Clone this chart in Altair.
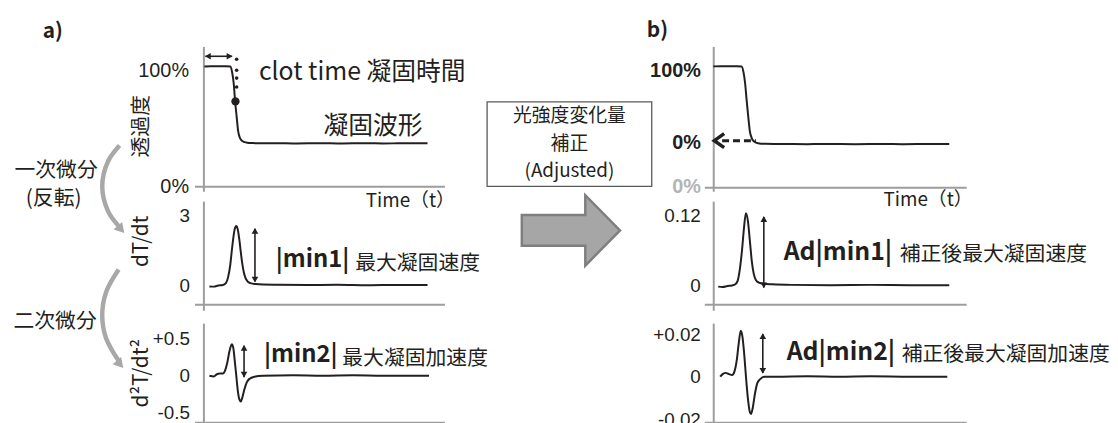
import altair as alt
import pandas as pd

JP = "Noto Sans CJK JP"
NUM = "Liberation Sans"
INK = "#231f20"
AX = "#9d9d9d"

# ---------------- values ----------------
# a) clot waveform: transmittance (%) vs time (s)
a1_t = [1.3, 10, 20, 30, 36, 38.5, 40.5, 42.5, 44.5, 46.5, 49, 52, 57, 66, 80, 100,
        120, 140, 160, 180, 200, 220, 240, 260, 280, 300]
a1_v = [103.2, 103.5, 103.4, 103.5, 103.2, 98, 89, 73, 60, 47.5, 41.5, 39, 37.8, 37.2, 37.0, 37.1,
        36.9, 37.0, 37.1, 36.9, 37.0, 37.1, 36.9, 37.0, 37.1, 37.0]
# a) first derivative dT/dt (inverted)
a2_t = [8, 14, 20, 26, 30, 33, 36, 38, 40, 42, 44, 46, 48, 50, 52, 54, 56, 59, 63, 70, 80,
        100, 140, 180, 220, 260, 300]
a2_v = [-0.04, -0.05, 0.0, 0.02, 0.1, 0.35, 0.9, 1.5, 2.05, 2.45, 2.57, 2.42, 2.0, 1.45, 0.95,
        0.58, 0.35, 0.18, 0.1, 0.06, 0.04, 0.03, 0.02, 0.03, 0.01, 0.02, 0.02]
# a) second derivative d2T/dt2
a3_t = [8, 14, 18, 22, 26, 29, 32, 35, 38, 40, 42, 44, 46, 48, 50, 52, 55, 58, 62, 68, 80,
        120, 160, 200, 240, 302]
a3_v = [0.0, -0.01, 0.02, 0.03, 0.03, 0.07, 0.18, 0.34, 0.43, 0.38, 0.2, 0.0, -0.2, -0.32,
        -0.35, -0.3, -0.18, -0.09, -0.04, -0.015, 0.0, 0.005, 0.0, 0.005, 0.0, 0.0]
# b) adjusted waveform (%)
b1_t = [0, 10, 20, 30, 36, 38.5, 40.5, 42.5, 44.5, 46.5, 49, 52, 57, 66, 80, 100,
        120, 140, 160, 180, 200, 220, 240, 260, 280, 300]
b1_v = [105.3, 105.6, 105.5, 105.6, 105.2, 97, 82, 58, 36, 16, 6, 1.5, -0.8, -1.7, -1.9, -2.0,
        -2.1, -1.9, -2.0, -2.1, -2.0, -1.9, -2.1, -2.0, -1.9, -2.0]
# b) adjusted first derivative
b2_t = [6.3, 12, 18, 24, 28, 31, 34, 36.5, 39, 41.5, 44, 46.5, 49, 51.5, 54, 58, 64, 75,
        100, 150, 200, 250, 300]
b2_v = [-0.002, -0.0025, -0.001, 0.0, 0.002, 0.008, 0.03, 0.06, 0.098, 0.125, 0.112, 0.078,
        0.042, 0.02, 0.01, 0.005, 0.003, 0.002, 0.001, 0.0005, 0.001, 0.0005, 0.0005]
# b) adjusted second derivative
b3_t = [8.8, 12, 16, 20, 24, 27, 30, 32.5, 35, 37, 39.5, 41.6, 44, 46.5, 48, 50, 53, 56, 60,
        65, 80, 120, 160, 200, 250, 297.5]
b3_v = [0.0, 0.0012, 0.0018, 0.0012, 0.0008, 0.0025, 0.008, 0.016, 0.0215, 0.019, 0.01, 0.0,
        -0.01, -0.0165, -0.0175, -0.015, -0.008, -0.003, -0.001, 0.0, 0.0, 0.0002, 0.0, 0.0002,
        0.0, 0.0]

# axis tick values
a1_ticks = [0, 100]
a2_ticks = [0, 3]
a3_ticks = [-0.5, 0, 0.5]
b1_ticks = [-60.3, 0, 100]   # grey "0%" = level of the original 0 %
b2_ticks = [0, 0.12]
b3_ticks = [-0.02, 0, 0.02]

# axis domains (data units)
A_T = [-11.95, 322.6]
B_T = [-11.35, 321.5]
A1_Y = [-4.27, 120.51]
A2_Y = [-1.0714, 3.643]
A3_Y = [-0.6622, 0.7162]
B1_Y = [-67.12, 132.88]
B2_Y = [-0.04286, 0.14571]
B3_Y = [-0.022326, 0.025116]

# layout (pixels)
WL, WA, WM, WB = 185, 252, 262, 264
H0, H1, G1, H2, G2, H3 = 34, 146, 10, 110, 13, 102
L_X = [0, WL]
M_X = [0, WM]
C_Y = [0, H0]   # annotation canvases: 1 unit = 1 px, content overflows downward


def S(dom, rev=False):
    return alt.Scale(domain=dom, nice=False, zero=False, reverse=rev)


def enc(xdom, ydom, yrev=False, no_axis=False):
    if no_axis:
        return dict(x=alt.X("t:Q", scale=S(xdom), axis=None),
                    y=alt.Y("v:Q", scale=S(ydom, yrev), axis=None))
    return dict(x=alt.X("t:Q", scale=S(xdom)), y=alt.Y("v:Q", scale=S(ydom, yrev)))


def text_layer(rows, xdom, ydom, size, weight="normal", align="left", font=JP,
               color=INK, yrev=False, no_axis=False):
    df = pd.DataFrame(rows, columns=["t", "v", "s"])
    return alt.Chart(df).mark_text(font=font, fontSize=size, fontWeight=weight, align=align,
                                   baseline="middle", color=color).encode(
        text="s:N", **enc(xdom, ydom, yrev, no_axis))


def vdouble(t, v_top, v_bot, h_top, h_bot, xdom, ydom):
    rule = alt.Chart(pd.DataFrame({"t": [t], "v": [v_top], "v2": [v_bot]})).mark_rule(
        color=INK, strokeWidth=1.6).encode(y2="v2:Q", **enc(xdom, ydom))
    heads = alt.Chart(pd.DataFrame({"t": [t, t], "v": [h_top, h_bot],
                                    "sh": ["triangle-up", "triangle-down"]})).mark_point(
        filled=True, color=INK, opacity=1, size=45).encode(
        shape=alt.Shape("sh:N", scale=None), **enc(xdom, ydom))
    return [rule, heads]


def yaxis(values, label_expr, offset, pad, title=None, tx=0, ty=0, bold=False,
          label_color=INK, size=19):
    kw = dict(values=values, labelExpr=label_expr, offset=offset, labelPadding=pad,
              ticks=False, tickSize=0, grid=False, domain=True, domainColor=AX,
              domainWidth=2, labelFont=NUM, labelFontSize=size, labelColor=label_color,
              labelOverlap=False, labelFlush=False,
              labelFontWeight="bold" if bold else "normal")
    if title:
        kw.update(title=title, titleFont=JP, titleFontSize=21, titleFontWeight="normal",
                  titleColor=INK, titleX=tx, titleY=ty, titleAngle=270,
                  titleAlign="center", titleBaseline="middle")
    else:
        kw["title"] = None
    return alt.Axis(**kw)


def xaxis(offset, title=None, tx=0, ty=0):
    kw = dict(offset=offset, labels=False, ticks=False, tickSize=0, grid=False,
              domain=True, domainColor=AX, domainWidth=2)
    if title:
        kw.update(title=title, titleFont=JP, titleFontSize=19, titleFontWeight="normal",
                  titleColor=INK, titleX=tx, titleY=ty, titleAlign="right",
                  titleBaseline="middle", titleAngle=0)
    else:
        kw["title"] = None
    return alt.Axis(**kw)


def curve_panel(t, v, xdom, ydom, w, h, yax, xax, extras):
    df = pd.DataFrame({"t": t, "v": v})
    line = alt.Chart(df).mark_line(color=INK, strokeWidth=2, interpolate="monotone").encode(
        x=alt.X("t:Q", scale=S(xdom), axis=xax),
        y=alt.Y("v:Q", scale=S(ydom), axis=yax))
    return alt.layer(line, *extras).properties(width=w, height=h)


def spacer(w, h):
    return alt.Chart(pd.DataFrame({"z": [0]})).mark_point(opacity=0).encode(
        x=alt.value(0), y=alt.value(0)).properties(width=w, height=h)


# ---------------- a) panels ----------------
a_top_extra = [
    alt.Chart(pd.DataFrame({"t": [44.5] * 4, "v": [109.4, 100, 93.2, 85.5]})).mark_circle(
        color=INK, size=13, opacity=1).encode(**enc(A_T, A1_Y)),
    alt.Chart(pd.DataFrame({"t": [42.9], "v": [73.1]})).mark_circle(
        color=INK, size=70, opacity=1).encode(**enc(A_T, A1_Y)),
    alt.Chart(pd.DataFrame({"t": [2.7], "t2": [38.5], "v": [112.0]})).mark_rule(
        color=INK, strokeWidth=1.6).encode(x2="t2:Q", **enc(A_T, A1_Y)),
    alt.Chart(pd.DataFrame({"t": [6.0, 35.0], "v": [112.0, 112.0],
                            "sh": ["triangle-left", "triangle-right"]})).mark_point(
        filled=True, color=INK, opacity=1, size=45).encode(
        shape=alt.Shape("sh:N", scale=None), **enc(A_T, A1_Y)),
    text_layer([[74.3, 98.3, "clot time 凝固時間"]], A_T, A1_Y, 25),
    text_layer([[293.4, 52.1, "凝固波形"]], A_T, A1_Y, 25, align="right"),
]
a_top = curve_panel(a1_t, a1_v, A_T, A1_Y, WA, H1,
                    yaxis(a1_ticks, "datum.value + '%'", -9, 15, "透過度", -62, 80, size=20),
                    xaxis(-5, "Time（t）", 262, 14), a_top_extra)

a_mid_extra = vdouble(69.0, 2.45, 0.17, 2.357, 0.257, A_T, A2_Y) + [
    text_layer([[96.9, 1.114, "|min1|"]], A_T, A2_Y, 24, weight="bold"),
    text_layer([[203.1, 0.943, "最大凝固速度"]], A_T, A2_Y, 21),
]
a_mid = curve_panel(a2_t, a2_v, A_T, A2_Y, WA, H2,
                    yaxis(a2_ticks, "datum.value == 0 ? '0' : format(datum.value, 'd')", -9, 14,
                          "dT/dt", -62, 40),
                    xaxis(-6), a_mid_extra)

a_bot_extra = vdouble(54.4, 0.41, -0.02, 0.378, 0.0135, A_T, A3_Y) + [
    text_layer([[81.0, 0.284, "|min2|"]], A_T, A3_Y, 24, weight="bold"),
    text_layer([[185.9, 0.230, "最大凝固加速度"]], A_T, A3_Y, 21),
]
a_bot = curve_panel(a3_t, a3_v, A_T, A3_Y, WA, H3,
                    yaxis(a3_ticks,
                          "datum.value > 0 ? '+' + format(datum.value, '.1f') : "
                          "(datum.value < 0 ? '-' + format(-datum.value, '.1f') : '0')",
                          -9, 14, "d²T/dt²", -62, 50),
                    xaxis(-2), a_bot_extra)

# ---------------- b) panels ----------------
CHEVRON = "M0.71,-1L-0.71,0L0.71,1"
b_top_extra = [
    alt.Chart(pd.DataFrame({"t": [11.3], "t2": [54.2], "v": [2.74]})).mark_rule(
        color=INK, strokeWidth=3, strokeDash=[7, 4]).encode(x2="t2:Q", **enc(B_T, B1_Y)),
    alt.Chart(pd.DataFrame({"t": [7.6], "v": [2.74]})).mark_point(
        shape=CHEVRON, size=196, filled=False, color=INK, strokeWidth=3.5, opacity=1).encode(
        **enc(B_T, B1_Y)),
]
b_top = curve_panel(b1_t, b1_v, B_T, B1_Y, WB, H1,
                    yaxis(b1_ticks, "datum.value < -1 ? '0%' : format(datum.value, 'd') + '%'",
                          -9, 13, bold=True, size=20,
                          label_color={"condition": {"test": "datum.value < -1",
                                                     "value": "#b4b4b4"},
                                       "value": INK}),
                    xaxis(-4, "Time（t）", 270, 12), b_top_extra)

b_mid_extra = vdouble(64.3, 0.1185, -0.0035, 0.11486, 0.0, B_T, B2_Y) + [
    text_layer([[89.5, 0.05829, "Ad|min1|"]], B_T, B2_Y, 25, weight="bold"),
    text_layer([[237.0, 0.05314, "補正後最大凝固速度"]], B_T, B2_Y, 21),
]
b_mid = curve_panel(b2_t, b2_v, B_T, B2_Y, WB, H2,
                    yaxis(b2_ticks, "datum.value == 0 ? '0' : format(datum.value, '.2f')",
                          -9, 13),
                    xaxis(-6), b_mid_extra)

b_bot_extra = vdouble(63.0, 0.0200, 0.0018, 0.01907, 0.00279, B_T, B3_Y) + [
    text_layer([[93.3, 0.011628, "Ad|min2|"]], B_T, B3_Y, 25, weight="bold"),
    text_layer([[239.5, 0.010233, "補正後最大凝固加速度"]], B_T, B3_Y, 21),
]
b_bot = curve_panel(b3_t, b3_v, B_T, B3_Y, WB, H3,
                    yaxis(b3_ticks,
                          "datum.value > 0 ? '+' + format(datum.value, '.2f') : "
                          "(datum.value < 0 ? '-' + format(-datum.value, '.2f') : '0')",
                          -9, 13),
                    xaxis(-2), b_bot_extra)

# ---------------- left annotation canvas ----------------
arc_x = [109.5, 97.8, 92.0, 97.8, 108.5, 108.5, 95.8, 92.0, 95.8, 108.5]
arc_y = [134, 150, 175, 200, 215, 259, 282, 305, 328, 351]
arc_df = pd.DataFrame({"t": arc_x, "v": arc_y, "g": [1] * 5 + [2] * 5,
                       "o": list(range(5)) * 2})
left = alt.layer(
    alt.Chart(arc_df).mark_line(color="#a8a8a8", strokeWidth=4.5, interpolate="catmull-rom").encode(
        detail="g:N", order="o:Q", **enc(L_X, C_Y, True, True)),
    alt.Chart(pd.DataFrame({"t": [111, 110], "v": [218.5, 354.5]})).mark_point(
        shape="triangle-down", angle=319, filled=True, color="#a8a8a8", size=130,
        opacity=1).encode(**enc(L_X, C_Y, True, True)),
    text_layer([[32, 20, "a)"]], L_X, C_Y, 21, weight="bold", yrev=True, no_axis=True),
    text_layer([[45.5, 160, "一次微分"], [43, 188, "(反転)"], [44.5, 312, "二次微分"]],
               L_X, C_Y, 21, align="center", yrev=True, no_axis=True),
).properties(width=WL, height=H0)

# ---------------- middle annotation canvas ----------------
BLOCK = "M-1,-0.313L0.293,-0.313L0.293,-0.717L1,0L0.293,0.717L0.293,0.313L-1,0.313Z"
middle = alt.layer(
    alt.Chart(pd.DataFrame({"t": [43], "t2": [209], "v": [90], "v2": [175]})).mark_rect(
        fill="white", stroke="#595959", strokeWidth=1.3).encode(
        x2="t2:Q", y2="v2:Q", **enc(M_X, C_Y, True, True)),
    text_layer([[126, 104, "光強度変化量"], [126, 132, "補正"], [126, 160, "(Adjusted)"]],
               M_X, C_Y, 19, align="center", yrev=True, no_axis=True),
    alt.Chart(pd.DataFrame({"t": [127.5], "v": [219.5]})).mark_point(
        shape=BLOCK, size=9801, filled=True, fill="#a6a6a6", stroke="#7f7f7f",
        strokeWidth=2.5, opacity=1).encode(**enc(M_X, C_Y, True, True)),
    text_layer([[204, 19, "b)"]], M_X, C_Y, 21, weight="bold", yrev=True, no_axis=True),
).properties(width=WM, height=H0)

cells = [
    left, spacer(WA, H0), middle, spacer(WB, H0),
    spacer(WL, H1), a_top, spacer(WM, H1), b_top,
    spacer(WL, G1), spacer(WA, G1), spacer(WM, G1), spacer(WB, G1),
    spacer(WL, H2), a_mid, spacer(WM, H2), b_mid,
    spacer(WL, G2), spacer(WA, G2), spacer(WM, G2), spacer(WB, G2),
    spacer(WL, H3), a_bot, spacer(WM, H3), b_bot,
]

chart = alt.concat(*cells, columns=4, spacing=0, bounds="flush").properties(
    padding=0).configure_view(stroke=None)

chart.save("out.html", embed_options={"renderer": "svg", "actions": False})
